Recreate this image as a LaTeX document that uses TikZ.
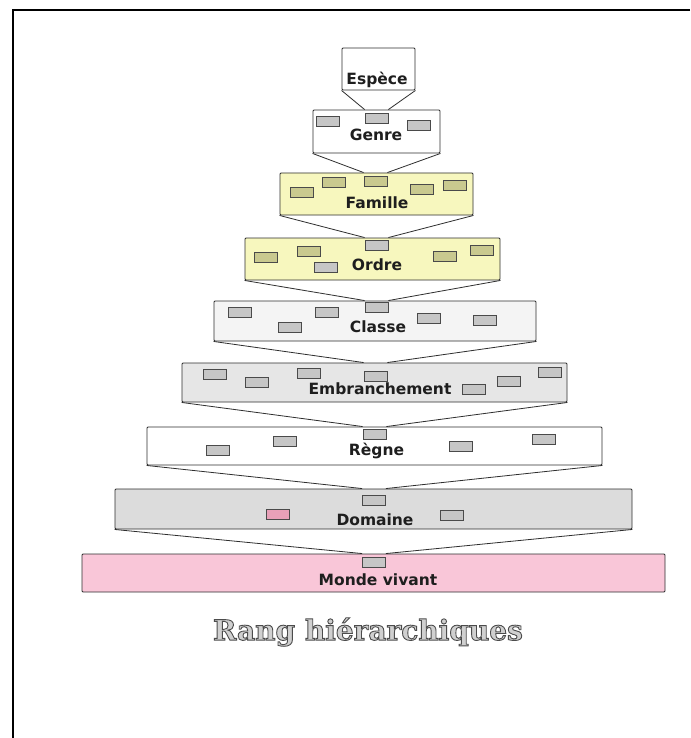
\documentclass[tikz,border=0pt]{standalone}
\usepackage{fontspec}
\newfontfamily\lblfont{DejaVu Sans}
\newfontfamily\ttlfont{DejaVu Serif}
\definecolor{linec}{HTML}{2E2E2E}
\definecolor{rectc}{HTML}{4A4A4A}
\definecolor{textc}{HTML}{1E1E1E}
\definecolor{yel}{HTML}{F7F7BE}
\definecolor{olive}{HTML}{C9C98F}
\definecolor{rkgray}{HTML}{C6C6C6}
\definecolor{lgray}{HTML}{E6E6E6}
\definecolor{mgray}{HTML}{DCDCDC}
\definecolor{pgray}{HTML}{F4F4F4}
\definecolor{pinkbg}{HTML}{F9C6D8}
\definecolor{pinkrk}{HTML}{E8A0B8}
\definecolor{ttlfill}{HTML}{D0D0D0}
\newcommand{\outlinetext}[1]{\special{pdf:literal direct 2 Tr 0.9 w 0.3 0.3 0.3 RG}#1\special{pdf:literal direct 0 Tr 0 0 0 RG}}
\begin{document}
\begin{tikzpicture}[x=1pt,y=-1pt,
  lvl/.style={draw=linec, line width=0.9pt, inner sep=0pt, rounded corners=1pt},
  rk/.style={draw=rectc, line width=0.8pt, minimum width=23pt, minimum height=10pt, inner sep=0pt, fill=#1},
  rk/.default=rkgray,
  lbl/.style={font=\lblfont\fontsize{15.5}{18}\selectfont\bfseries, text=textc, inner sep=0pt},
  fun/.style={draw=linec, line width=0.8pt},
  ttl/.style={font=\ttlfont\fontsize{28}{32}\selectfont\bfseries, inner sep=0pt}]
\useasboundingbox (0,0) rectangle (690,738);
\fill[white] (0,0) rectangle (690,738);
% frame
\coordinate (fr-tr) at (690,10);
\coordinate (fr-tl) at (13,10);
\coordinate (fr-bl) at (13,738);
\draw[line width=1.5pt, black] (fr-tr) -- (fr-tl) -- (fr-bl);

% Espece
\node[lvl, fill=white, minimum width=73pt, minimum height=42pt] (esp) at (378.5,69) {};
\node[lbl] (esp-t) at (377,80) {Espèce};
% Genre
\node[lvl, fill=white, minimum width=127pt, minimum height=43pt] (gen) at (376.5,131.5) {};
\node[rk] (gen-c) at (376.5,118) {};
\node[rk] (gen-r1) at (328,121) {};
\node[rk] (gen-r2) at (418.5,125) {};
\node[lbl] (gen-t) at (376,135) {Genre};
% Famille
\node[lvl, fill=yel, minimum width=193pt, minimum height=42pt] (fam) at (376.5,194) {};
\node[rk=olive] (fam-c) at (375.5,181) {};
\node[rk=olive] (fam-r1) at (302,192.5) {};
\node[rk=olive] (fam-r2) at (333.5,182) {};
\node[rk=olive] (fam-r3) at (421.5,189) {};
\node[rk=olive] (fam-r4) at (455,185) {};
\node[lbl] (fam-t) at (377,203) {Famille};
% Ordre
\node[lvl, fill=yel, minimum width=255pt, minimum height=42pt] (ord) at (372.5,259) {};
\node[rk=rkgray] (ord-c) at (376.5,245) {};
\node[rk=olive] (ord-r1) at (266,257.5) {};
\node[rk=olive] (ord-r2) at (309,251) {};
\node[rk=rkgray] (ord-r3) at (326,267) {};
\node[rk=olive] (ord-r4) at (445,256) {};
\node[rk=olive] (ord-r5) at (482,250) {};
\node[lbl] (ord-t) at (377,265) {Ordre};
% Classe
\node[lvl, fill=pgray, minimum width=322pt, minimum height=40pt] (cla) at (375,321) {};
\node[rk] (cla-c) at (376.5,307) {};
\node[rk] (cla-r1) at (239.5,312) {};
\node[rk] (cla-r2) at (289.5,327) {};
\node[rk] (cla-r3) at (326.5,312.5) {};
\node[rk] (cla-r4) at (429,318) {};
\node[rk] (cla-r5) at (485,320) {};
\node[lbl] (cla-t) at (378,327) {Classe};
% Embranchement
\node[lvl, fill=lgray, minimum width=385pt, minimum height=39pt] (emb) at (374.5,382.5) {};
\node[rk] (emb-c) at (375.5,376) {};
\node[rk] (emb-r1) at (215,374) {};
\node[rk] (emb-r2) at (256.5,382.5) {};
\node[rk] (emb-r3) at (308.5,373) {};
\node[rk] (emb-r4) at (474,389) {};
\node[rk] (emb-r5) at (508.5,381) {};
\node[rk] (emb-r6) at (550,372.5) {};
\node[lbl] (emb-t) at (380,389) {Embranchement};
% Regne
\node[lvl, fill=white, minimum width=455pt, minimum height=38pt] (reg) at (374.5,446) {};
\node[rk] (reg-c) at (374.5,434) {};
\node[rk] (reg-r1) at (217.5,450) {};
\node[rk] (reg-r2) at (285,441) {};
\node[rk] (reg-r3) at (460.5,446) {};
\node[rk] (reg-r4) at (543.5,439) {};
\node[lbl] (reg-t) at (376.5,451) {Règne};
% Domaine
\node[lvl, fill=mgray, minimum width=517pt, minimum height=40pt] (dom) at (373.5,509) {};
\node[rk] (dom-c) at (374,500.5) {};
\node[rk=pinkrk] (dom-r1) at (277.5,514) {};
\node[rk] (dom-r2) at (452,515) {};
\node[lbl] (dom-t) at (375,520) {Domaine};
% Monde vivant
\node[lvl, fill=pinkbg, minimum width=583pt, minimum height=38pt] (mon) at (373.5,573) {};
\node[rk] (mon-c) at (374,562) {};
\node[lbl] (mon-t) at (378,580) {Monde vivant};

% funnels
\draw[fun] (esp.south west) -- (gen-c.north west |- gen.north);
\draw[fun] (esp.south east) -- (gen-c.north east |- gen.north);
\draw[fun] (gen.south west) -- (fam-c.north west |- fam.north);
\draw[fun] (gen.south east) -- (fam-c.north east |- fam.north);
\draw[fun] (fam.south west) -- (ord-c.north west |- ord.north);
\draw[fun] (fam.south east) -- (ord-c.north east |- ord.north);
\draw[fun] (ord.south west) -- (cla-c.north west |- cla.north);
\draw[fun] (ord.south east) -- (cla-c.north east |- cla.north);
\draw[fun] (cla.south west) -- (emb-c.north west |- emb.north);
\draw[fun] (cla.south east) -- (emb-c.north east |- emb.north);
\draw[fun] (emb.south west) -- (reg-c.north west |- reg.north);
\draw[fun] (emb.south east) -- (reg-c.north east |- reg.north);
\draw[fun] (reg.south west) -- (dom-c.north west |- dom.north);
\draw[fun] (reg.south east) -- (dom-c.north east |- dom.north);
\draw[fun] (dom.south west) -- (mon-c.north west |- mon.north);
\draw[fun] (dom.south east) -- (mon-c.north east |- mon.north);

% title
\node[ttl, text=ttlfill] (ttl) at (368,632) {\outlinetext{Rang hiérarchiques}};
\end{tikzpicture}
\end{document}
